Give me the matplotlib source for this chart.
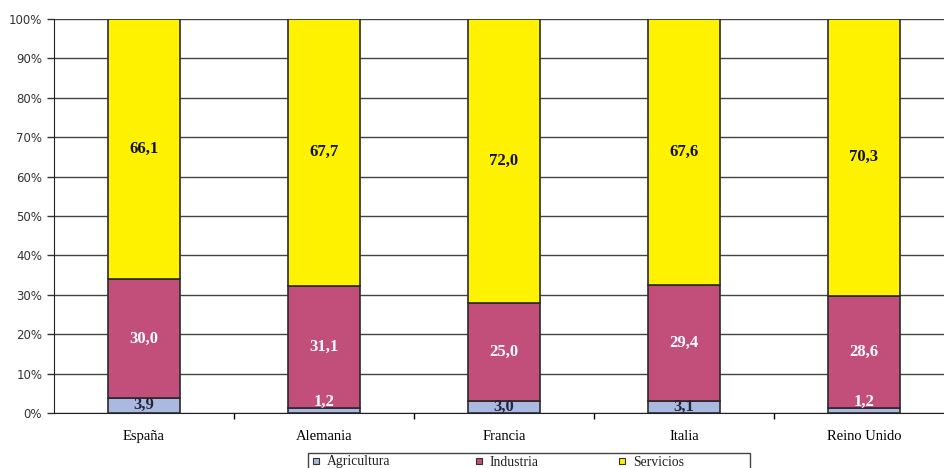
import numpy as np
from matplotlib import pyplot as plt
from matplotlib.lines import Line2D
from matplotlib.patches import Rectangle
from matplotlib.ticker import FuncFormatter

paises = ["España", "Alemania", "Francia", "Italia", "Reino Unido"]
agricultura = [3.9, 1.2, 3.0, 3.1, 1.2]
industria = [30.0, 31.1, 25.0, 29.4, 28.6]
servicios = [66.1, 67.7, 72.0, 67.6, 70.3]

series = [
    ("Agricultura", agricultura, "#a9b9e0", "#24243a"),
    ("Industria", industria, "#c14f7a", "white"),
    ("Servicios", servicios, "#fff200", "#111111"),
]

serif = "Liberation Serif"
W, H = 944, 468

fig = plt.figure(figsize=(W / 100, H / 100), dpi=100)
ax = fig.add_axes([54 / W, 55 / H, 900 / W, 394 / H])

x = np.arange(len(paises))
totals = np.array(agricultura) + np.array(industria) + np.array(servicios)
bottom = np.zeros(len(paises))
for name, vals, color, tcolor in series:
    pct = np.array(vals) / totals * 100
    ax.bar(x, pct, 0.4, bottom=bottom, color=color, edgecolor="#2a2a2a",
           linewidth=1.2, zorder=3)
    for xi, b, h, v in zip(x, bottom, pct, vals):
        ypos, c = b + h / 2, tcolor
        if h < 2:
            # label too tall for the segment: Excel pushes it up onto the next one
            ypos, c = 2.8, "white"
        ax.text(xi, ypos, f"{v:.1f}".replace(".", ","), ha="center",
                va="center", fontsize=12, fontweight="bold", family=serif,
                color=c, zorder=4)
    bottom += pct

ax.set_xlim(-0.5, 4.5)
ax.set_ylim(0, 100)
ax.set_yticks(np.arange(0, 101, 10))
ax.yaxis.set_major_formatter(FuncFormatter(lambda v, p: f"{v:.0f}%"))
ax.tick_params(axis="y", labelsize=8.5, colors="#333333", length=5, width=1,
               direction="out")
for lab in ax.get_yticklabels():
    lab.set_family("DejaVu Sans")
ax.set_xticks(x)
ax.set_xticklabels(paises, family=serif, fontsize=10.5)
ax.set_xticks(np.arange(0.5, 4.5, 1), minor=True)
ax.tick_params(axis="x", which="major", length=0, pad=12)
ax.tick_params(axis="x", which="minor", length=4, width=1, direction="out")
ax.grid(axis="y", color="#444444", linewidth=1, zorder=0)
for s in ["top", "right"]:
    ax.spines[s].set_visible(False)
ax.spines["left"].set_color("#222222")
ax.spines["bottom"].set_color("#222222")

# legend box, cut off by the bottom of the image as in the original
fig.add_artist(Rectangle((308 / W, -10 / H), 442 / W, 25 / H,
                         transform=fig.transFigure, facecolor="white",
                         edgecolor="#444444", linewidth=1))
marker_x = [316, 479, 622]
for mx, (name, _, color, _) in zip(marker_x, series):
    fig.add_artist(Line2D([mx / W], [1 - 461 / H], marker="s", markersize=5,
                          markerfacecolor=color, markeredgecolor="#333333",
                          markeredgewidth=0.8, transform=fig.transFigure))
    fig.text((mx + 11) / W, 1 - 462 / H, name, family=serif, fontsize=9.8,
             va="center", ha="left", color="#222222")

fig.savefig("out.png", dpi=100)
